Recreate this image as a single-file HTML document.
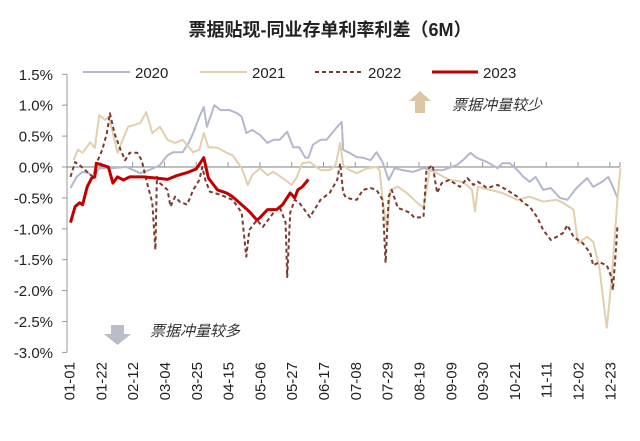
<!DOCTYPE html>
<html><head><meta charset="utf-8"><style>
html,body{margin:0;padding:0;background:#fff;}
svg{display:block;font-family:"Liberation Sans","Noto Sans CJK SC",sans-serif;}
</style></head><body>
<svg id="chart" width="640" height="441" viewBox="0 0 640 441">
<text x="330" y="36" text-anchor="middle" font-size="18" font-weight="bold" fill="#222">票据贴现-同业存单利率利差（6M）</text>
<g>
<g><line x1="83" y1="72" x2="130" y2="72" stroke="#b4b8cc" stroke-width="2"/><text x="135" y="78" font-size="15" fill="#222">2020</text></g>
<g><line x1="200" y1="72" x2="247" y2="72" stroke="#e2cfae" stroke-width="2"/><text x="252" y="78" font-size="15" fill="#222">2021</text></g>
<g><line x1="315" y1="72" x2="363" y2="72" stroke="#7b3a2e" stroke-width="2" stroke-dasharray="4,3"/><text x="368" y="78" font-size="15" fill="#222">2022</text></g>
<g><line x1="432" y1="72" x2="478" y2="72" stroke="#c00000" stroke-width="3"/><text x="483" y="78" font-size="15" fill="#222">2023</text></g>
</g>
<g>
<polygon points="420,91 431,101 425,101 425,113 415,113 415,101 409,101" fill="#dcc6a4"/>
<text x="452" y="110" font-size="15" font-style="italic" fill="#333">票据冲量较少</text>
</g>
<g>
<polygon points="111,325 124,325 124,334 131,334 117.5,345 104,334 111,334" fill="#b8bccb"/>
<text x="150" y="336" font-size="15" font-style="italic" fill="#333">票据冲量较多</text>
</g>
<g id="axes"></g>
<g id="series"></g>
</svg>
<script>
const yTicks = [1.5, 1.0, 0.5, 0.0, -0.5, -1.0, -1.5, -2.0, -2.5, -3.0];
const xLabels = ["01-01","01-22","02-12","03-04","03-25","04-15","05-06","05-27","06-17","07-08","07-29","08-19","09-09","09-30","10-21","11-11","12-02","12-23"];
const xLabelDays = [0,21,42,63,84,105,126,147,168,189,210,231,252,273,294,315,336,357];

const days2020 = [1,5,9,13,16,20,27,38,47,53,60,65,69,75,79,82,86,89,91,96,100,106,111,114,117,121,126,131,135,139,144,148,152,156,158,161,166,170,177,180,181,185,190,194,199,203,207,211,215,220,227,234,240,247,256,260,265,269,276,283,286,291,296,300,304,308,313,318,324,329,335,342,346,352,356,359,362];
const vals2020 = [-0.34,-0.16,-0.08,-0.10,-0.18,-0.02,-0.02,0.0,-0.10,-0.05,0.03,0.19,0.24,0.24,0.39,0.55,0.81,0.97,0.65,1.0,0.92,0.92,0.87,0.81,0.55,0.60,0.52,0.39,0.44,0.44,0.57,0.32,0.32,0.15,0.15,0.36,0.44,0.44,0.65,0.73,0.28,0.23,0.16,0.15,0.11,0.24,0.08,-0.21,-0.02,-0.05,-0.08,-0.02,-0.05,-0.05,0.03,0.11,0.23,0.15,0.08,-0.02,0.06,0.06,-0.05,-0.16,-0.24,-0.16,-0.37,-0.34,-0.50,-0.53,-0.34,-0.18,-0.32,-0.24,-0.16,-0.32,-0.50];

const days2021 = [3,6,9,14,17,20,24,26,29,32,36,39,47,51,55,60,65,70,75,82,86,89,92,98,104,108,114,118,121,126,131,135,141,147,150,154,159,166,172,176,179,181,185,190,197,203,205,207,210,212,217,223,230,234,238,243,251,260,266,268,270,278,286,296,304,313,322,326,333,336,342,346,350,354,355,357,359,362,364];
const vals2021 = [0.11,0.28,0.23,0.40,0.31,0.84,0.76,0.81,0.55,0.23,0.47,0.65,0.71,0.89,0.55,0.65,0.44,0.39,0.44,0.24,0.28,0.55,0.32,0.31,0.23,0.19,-0.02,-0.29,-0.13,-0.02,-0.13,-0.08,-0.18,-0.29,-0.18,0.06,0.08,-0.05,-0.05,0.03,0.39,0.03,-0.05,-0.10,-0.02,0.0,-0.05,-0.53,-1.02,-0.37,-0.32,-0.42,-0.58,-0.66,-0.05,-0.10,-0.21,-0.24,-0.37,-0.72,-0.32,-0.37,-0.42,-0.53,-0.48,-0.56,-0.53,-0.58,-0.69,-1.23,-1.13,-1.21,-1.62,-2.42,-2.60,-2.10,-1.55,-0.53,-0.02];

const days2022 = [1,4,7,12,16,19,22,25,27,30,34,37,40,45,48,51,55,57,58,60,65,67,70,73,78,82,86,88,90,93,100,108,114,117,119,124,128,135,139,143,144,146,149,152,159,166,172,177,179,181,183,190,194,199,203,207,209,211,213,217,220,225,228,234,236,240,243,246,251,258,263,267,270,276,283,289,296,300,304,309,313,318,322,326,329,333,339,344,346,350,355,358,359,361,362];
const vals2022 = [-0.16,0.08,0.03,-0.08,-0.16,0.11,0.28,0.55,0.87,0.55,0.28,0.11,0.23,0.23,0.11,-0.21,-0.58,-1.34,-0.16,-0.26,-0.37,-0.64,-0.48,-0.56,-0.61,-0.37,-0.21,0.0,-0.21,-0.40,-0.45,-0.53,-0.74,-1.45,-1.02,-0.86,-0.97,-0.74,-0.64,-0.90,-1.78,-0.74,-0.53,-0.58,-0.81,-0.53,-0.42,-0.21,0.06,-0.42,-0.50,-0.53,-0.37,-0.34,-0.37,-0.53,-1.55,-0.48,-0.37,-0.66,-0.69,-0.74,-0.82,-0.81,-0.05,0.03,-0.42,-0.26,-0.21,-0.32,-0.18,-0.29,-0.24,-0.34,-0.29,-0.37,-0.48,-0.58,-0.64,-0.81,-1.02,-1.18,-1.13,-1.07,-0.94,-1.13,-1.23,-1.39,-1.59,-1.54,-1.59,-1.78,-1.99,-1.34,-0.97];

const days2023 = [1,4,7,9,12,15,17,18,22,26,29,32,36,40,49,58,65,71,78,84,89,92,98,104,108,114,119,124,126,131,137,141,146,149,151,154,158];
const vals2023 = [-0.90,-0.64,-0.58,-0.61,-0.32,-0.18,-0.16,0.06,0.03,0.0,-0.26,-0.16,-0.21,-0.16,-0.16,-0.18,-0.20,-0.14,-0.09,-0.03,0.15,-0.18,-0.37,-0.42,-0.48,-0.61,-0.72,-0.86,-0.82,-0.69,-0.69,-0.61,-0.42,-0.50,-0.37,-0.32,-0.20];

const X0 = 69, XPD = 1.515, Y0 = 167, YPP = 61.8;
function xs(d){ return X0 + d * XPD; }
function ys(v){ return Y0 - v * YPP; }
const NS = "http://www.w3.org/2000/svg";
const axes = document.getElementById('axes');
const ser = document.getElementById('series');
function mk(tag, attrs, parent){ const e = document.createElementNS(NS, tag); for (const k in attrs) e.setAttribute(k, attrs[k]); parent.appendChild(e); return e; }

const yAxis = mk('line', {x1:67, y1:ys(1.5), x2:67, y2:ys(-3.0), stroke:'#999', 'stroke-width':1}, axes);


yTicks.forEach(v => {
  mk('line', {x1:62, y1:ys(v), x2:67, y2:ys(v), stroke:'#999'}, axes);
  const t = mk('text', {x:53, y:ys(v)+5.5, 'text-anchor':'end', 'font-size':15, fill:'#222'}, axes);
  t.textContent = v.toFixed(1) + '%';
  
  
});
const zl = mk('line', {x1:67, y1:ys(0), x2:620, y2:ys(0), stroke:'#999', 'stroke-width':1.2}, axes);


xLabels.forEach((lab, i) => {
  const x = xs(xLabelDays[i]);
  if (i > 0) mk('line', {x1:x, y1:ys(0)-5, x2:x, y2:ys(0), stroke:'#999'}, axes);
  const t = mk('text', {x:0, y:0, 'text-anchor':'end', 'font-size':15, fill:'#222', transform:'translate(' + (x+5.5) + ',362) rotate(-90)'}, axes);
  t.textContent = lab;
  
  
});
mk('line', {x1:620, y1:ys(0)-5, x2:620, y2:ys(0), stroke:'#999'}, axes);

function drawLine(days, vals, color, width, dash, name){
  const pts = days.map((d, i) => xs(d).toFixed(1) + ',' + ys(vals[i]).toFixed(1)).join(' ');
  const attrs = {points:pts, fill:'none', stroke:color, 'stroke-width':width, 'stroke-linejoin':'round'};
  if (dash) attrs['stroke-dasharray'] = dash;
  const p = mk('polyline', attrs, ser);
  
  
}
drawLine(days2020, vals2020, '#b4b8cc', 2, null, 'series-2020');
drawLine(days2021, vals2021, '#e2cfae', 2, null, 'series-2021');
drawLine(days2022, vals2022, '#7b3a2e', 2, '4,3', 'series-2022');
drawLine(days2023, vals2023, '#c00000', 3, null, 'series-2023');
</script>
</body></html>
